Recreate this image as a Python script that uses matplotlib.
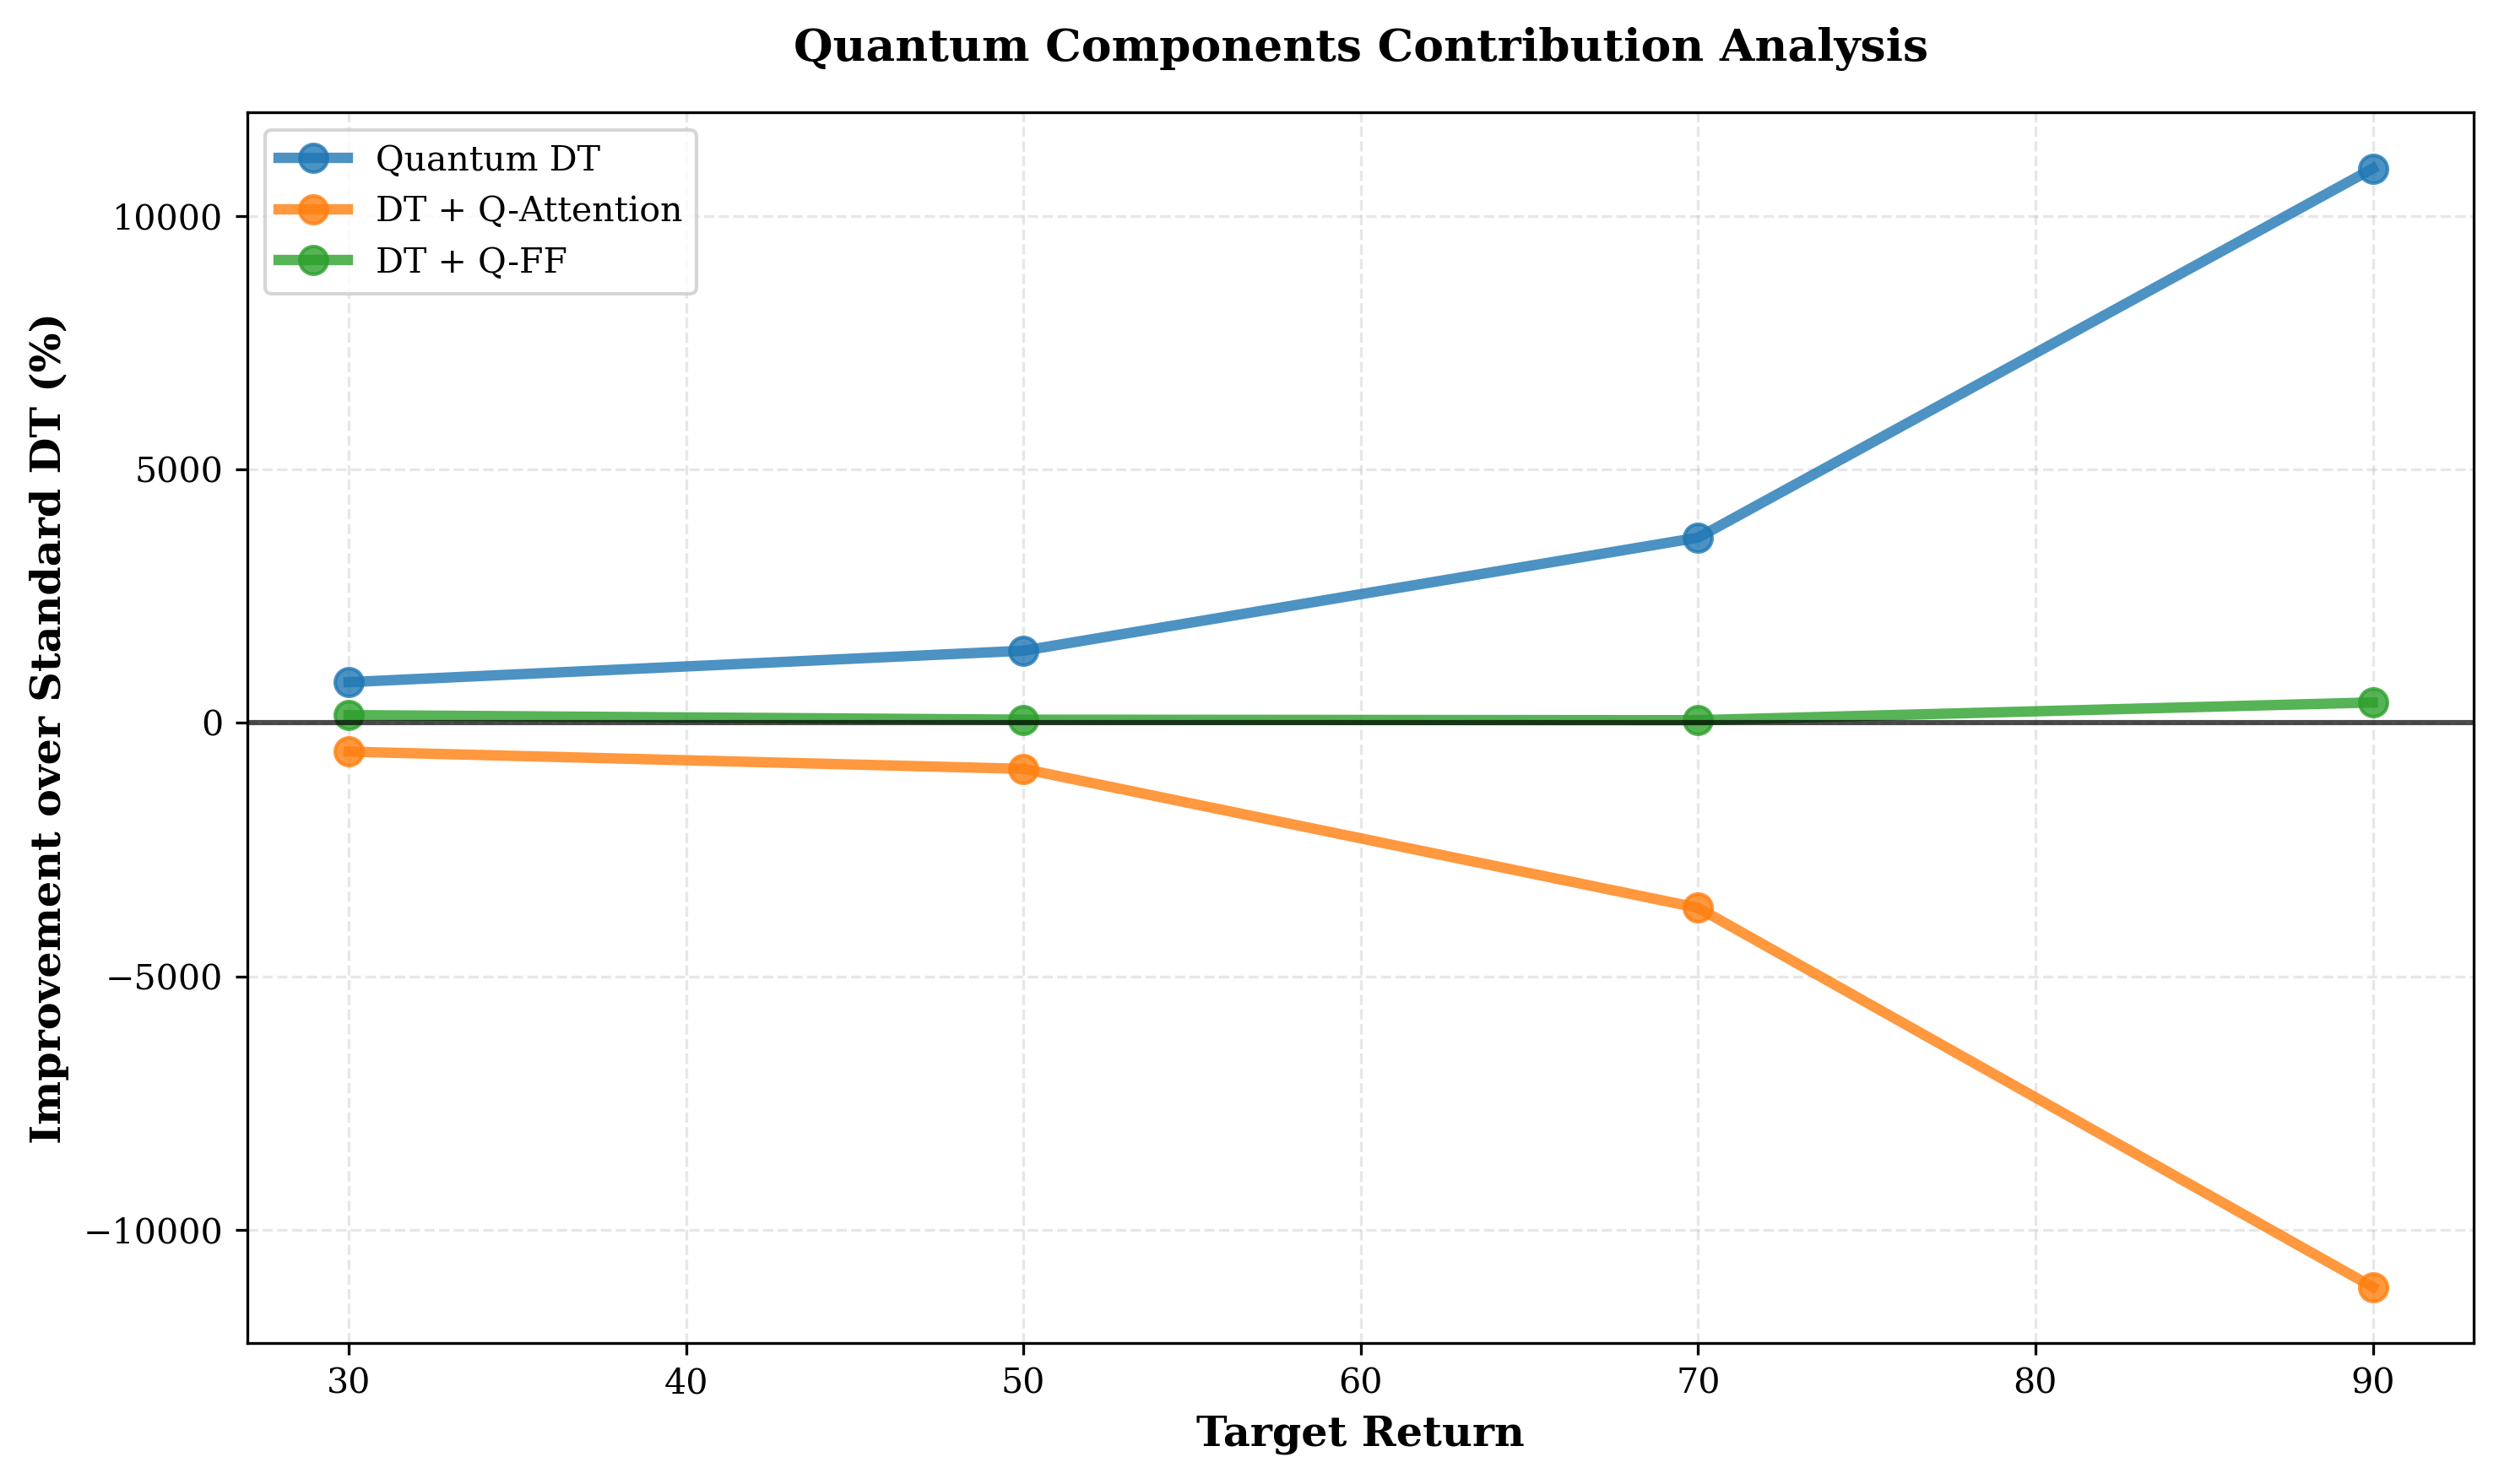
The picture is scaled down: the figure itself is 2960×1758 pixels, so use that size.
import matplotlib
matplotlib.use("Agg")
import matplotlib.pyplot as plt

plt.rcParams['font.family'] = 'DejaVu Serif'

target_returns = [30, 50, 70, 90]
quantum_dt = [800, 1420, 3650, 10930]
dt_q_attention = [-570, -910, -3650, -11130]
dt_q_ff = [150, 60, 50, 400]

fig, ax = plt.subplots(figsize=(10, 5.94))

ax.plot(target_returns, quantum_dt, 'o-', lw=3, markersize=8, alpha=0.8,
        color='#1f77b4', label='Quantum DT')
ax.plot(target_returns, dt_q_attention, 'o-', lw=3, markersize=8, alpha=0.8,
        color='#ff7f0e', label='DT + Q-Attention')
ax.plot(target_returns, dt_q_ff, 'o-', lw=3, markersize=8, alpha=0.8,
        color='#2ca02c', label='DT + Q-FF')

# Línea de referencia en cero
ax.axhline(0, color='black', lw=1.5, alpha=0.7)

ax.set_xlabel('Target Return', fontsize=12, fontweight='bold')
ax.set_ylabel('Improvement over Standard DT (%)', fontsize=12, fontweight='bold')
ax.set_title('Quantum Components Contribution Analysis', fontsize=13,
             fontweight='bold', pad=15)
ax.legend(loc='upper left')
ax.grid(True, ls='--', alpha=0.3)

fig.subplots_adjust(left=0.099, right=0.99, top=0.924, bottom=0.095)
fig.savefig('out.png', dpi=296)
